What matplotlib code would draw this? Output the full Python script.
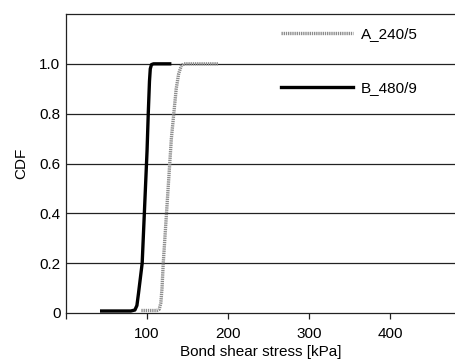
import matplotlib.pyplot as plt

a_stress = [93, 112, 115, 117, 118.5, 120, 122, 124, 126, 128, 130, 133, 136, 139, 142, 145, 150, 188]
a_cdf = [0.01, 0.01, 0.015, 0.04, 0.1, 0.2, 0.3, 0.4, 0.5, 0.6, 0.7, 0.8, 0.9, 0.96, 0.99, 1.0, 1.0, 1.0]

b_stress = [44, 80, 85, 87.5, 89.5, 91, 94, 96, 98, 100, 101.5, 103, 104, 105.5, 108, 128]
b_cdf = [0.008, 0.008, 0.012, 0.03, 0.08, 0.12, 0.2, 0.35, 0.5, 0.65, 0.8, 0.93, 0.98, 0.997, 1.0, 1.0]

x_ticks = [0, 100, 200, 300, 400]
x_labels = ["", "100", "200", "300", "400"]
y_ticks = [0, 0.2, 0.4, 0.6, 0.8, 1.0]
y_labels = ["0", "0.2", "0.4", "0.6", "0.8", "1.0"]

plt.rcParams["font.family"] = ["Liberation Sans", "DejaVu Sans"]
fs = 11

fig = plt.figure(figsize=(4.55, 3.63), dpi=100)
ax = fig.add_axes([66 / 455, 1 - 313 / 363, 1 - 66 / 455, (313 - 14) / 363])

for yv in y_ticks[1:]:
    ax.axhline(yv, color="#222222", linewidth=0.9, zorder=1)

ax.plot(a_stress, a_cdf, color="#8c8c8c", linewidth=2.4, dashes=[0.4, 0.25],
        label="A_240/5", zorder=3)
ax.plot(b_stress, b_cdf, color="black", linewidth=2.4, label="B_480/9", zorder=4)

ax.set_xlim(0, 480)
ax.set_ylim(0, 1.2)
ax.set_xticks(x_ticks)
ax.set_xticklabels(x_labels, fontsize=fs)
ax.set_yticks(y_ticks)
ax.set_yticklabels(y_labels, fontsize=fs)
ax.tick_params(axis="x", direction="out", length=4, width=0.9, color="#222222", pad=6)
ax.tick_params(axis="y", length=0, pad=4)

ax.spines["right"].set_visible(False)
for side in ["left", "top", "bottom"]:
    ax.spines[side].set_color("#222222")
    ax.spines[side].set_linewidth(0.9)

ax.set_xlabel("Bond shear stress [kPa]", fontsize=fs, labelpad=3)
ax.set_ylabel("CDF", fontsize=fs, labelpad=8)

fig.legend(loc="upper left", bbox_to_anchor=(281 / 455, 1 - 27 / 363),
           frameon=False, fontsize=fs, handlelength=4.7, handletextpad=0.52,
           labelspacing=2.65, borderpad=0, borderaxespad=0)

plt.savefig("out.png", dpi=100)
plt.close()
